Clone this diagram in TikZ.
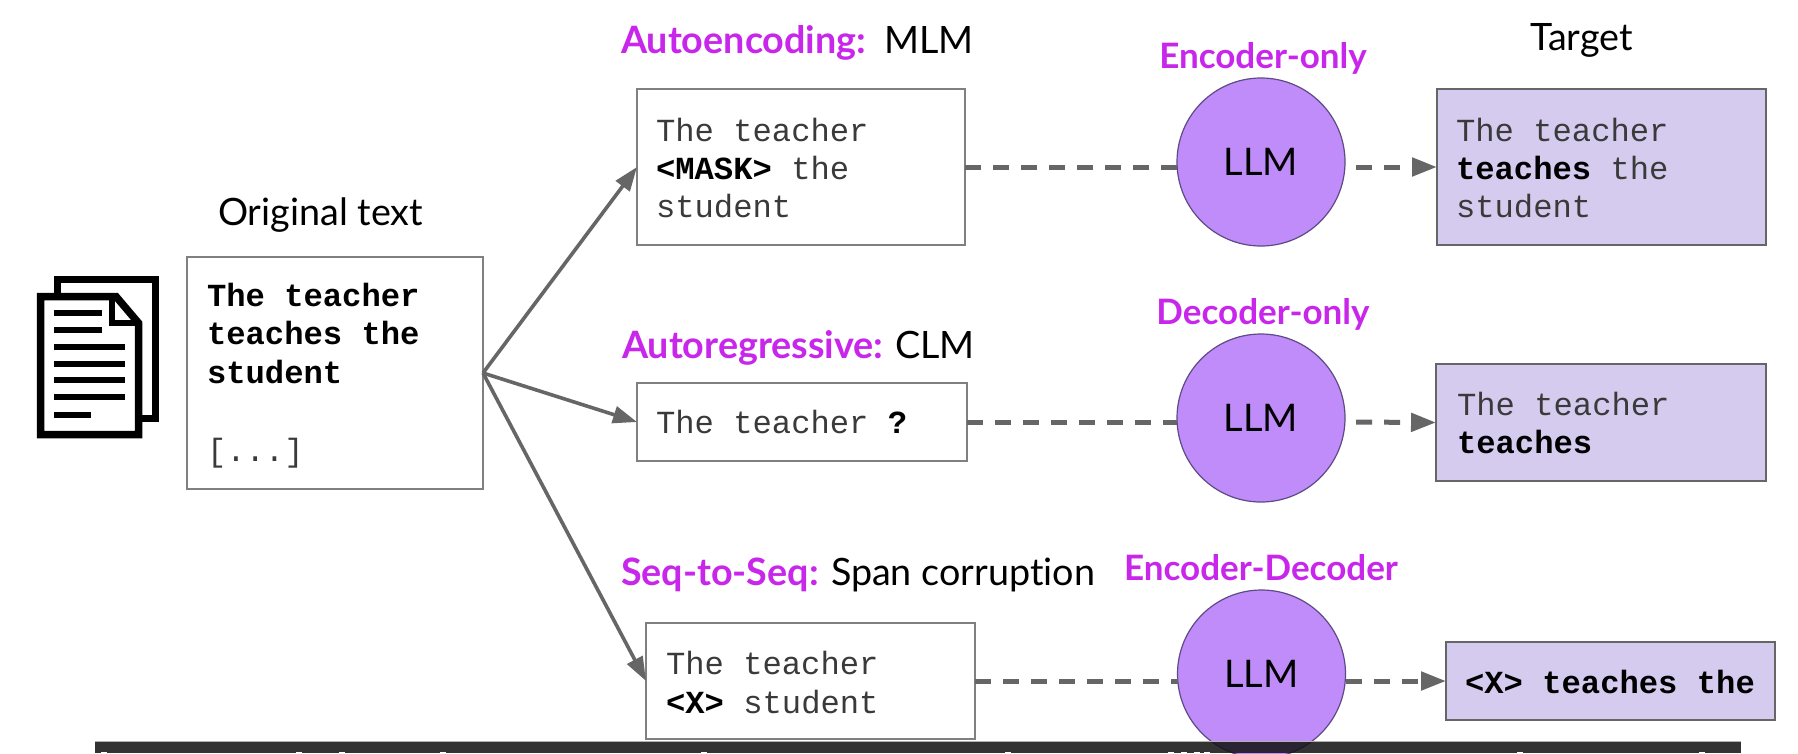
\documentclass[tikz,border=0pt]{standalone}
\usepackage{fontspec}
\setmainfont[Ligatures=CommonOff]{Lato}
\setmonofont{Liberation Mono}
\usetikzlibrary{arrows.meta}
\definecolor{magentalabel}{HTML}{C926EC}
\definecolor{llmfill}{HTML}{C08CFA}
\definecolor{llmedge}{HTML}{5E4A86}
\definecolor{targetfill}{HTML}{D5CBEE}
\definecolor{linegray}{HTML}{666666}
\definecolor{boxedge}{HTML}{808080}
\definecolor{codegray}{HTML}{3A3A3A}
\tikzset{
  x=1pt,y=-1pt,
  inputbox/.style={draw=boxedge,line width=1.8pt,fill=white,rectangle,inner sep=0pt,outer sep=0pt},
  targetbox/.style={draw=linegray,line width=1.8pt,fill=targetfill,rectangle,inner sep=0pt,outer sep=0pt},
  llm/.style={circle,draw=llmedge,line width=1.2pt,fill=llmfill,minimum size=168pt,inner sep=0pt,outer sep=0pt,
    text=black,font=\fontsize{38}{38}\selectfont},
  code/.style={anchor=base west,inner sep=0pt,outer sep=0pt,text=codegray,font=\ttfamily\fontsize{32.2}{32.2}\selectfont},
  boldcode/.style={code,text=black,font=\ttfamily\bfseries\fontsize{32.2}{32.2}\selectfont},
  lab/.style={anchor=base west,inner sep=0pt,outer sep=0pt,text=black,font=\fontsize{37.7}{37.7}\selectfont},
  magbold/.style={anchor=base west,inner sep=0pt,outer sep=0pt,text=magentalabel,font=\bfseries\fontsize{37.7}{37.7}\selectfont},
  magcenter/.style={anchor=base,inner sep=0pt,outer sep=0pt,text=magentalabel,font=\bfseries\fontsize{35}{35}\selectfont},
  solidarrow/.style={draw=linegray,line width=3.6pt,-{Triangle[length=24pt,width=17pt]}},
  dashline/.style={draw=linegray,line width=5pt,dash pattern=on 16pt off 12pt},
  dasharrow/.style={draw=linegray,line width=5pt,dash pattern=on 16pt off 12pt,-{Triangle[length=25pt,width=18pt]}},
  iconline/.style={draw=black,line width=6.5pt},
}
\begin{document}
\begin{tikzpicture}
\useasboundingbox (0,0) rectangle (1798,753);
\clip (0,0) rectangle (1798,753);
\fill[white] (0,0) rectangle (1798,753);

% document icon
\draw[black,line width=7pt,fill=white] (57.5,293) -- (57.5,279.5) -- (155.5,279.5) -- (155.5,418) -- (139,418);
\draw[black,line width=7.5pt,fill=white,line join=miter] (40.5,296.5) -- (116,296.5) -- (138.5,323) -- (138.5,434.5) -- (40.5,434.5) -- cycle;
\draw[black,line width=6.5pt] (112,296) -- (112,323) -- (139,323);
\foreach \yy/\xx in {313/102,330/102,347/125,364/125,380/125,397/125,415/91}
  \draw[iconline] (54,\yy) -- (\xx,\yy);

% boxes
\node[inputbox,minimum width=296pt,minimum height=232pt] (orig) at (335,373) {};
\node[inputbox,minimum width=328pt,minimum height=156pt] (mlm) at (801,167) {};
\node[targetbox,minimum width=329pt,minimum height=156pt] (t1) at (1601.5,167) {};
\node[inputbox,minimum width=330pt,minimum height=78pt] (clm) at (802,422) {};
\node[targetbox,minimum width=330pt,minimum height=117pt] (t2) at (1601,422.5) {};
\node[inputbox,minimum width=329pt,minimum height=116pt] (seq) at (810.5,681) {};
\node[targetbox,minimum width=329pt,minimum height=78pt] (t3) at (1610.5,681) {};

% llm circles
\node[llm] (l1) at (1261,162) {LLM};
\node[llm] (l2) at (1261,418) {LLM};
\node[llm] (l3) at (1261.5,674) {LLM};

% connectors
\draw[solidarrow] (orig.east) -- (mlm.west);
\draw[solidarrow] (orig.east) -- (clm.west);
\draw[solidarrow] (orig.east) -- (seq.west);
\draw[dashline] (mlm.east) -- (l1.west |- mlm.east);
\draw[dashline] (clm.east) -- (l2.west |- clm.east);
\draw[dashline] (seq.east) -- (l3.west |- seq.east);
\draw[dasharrow,shorten <=11pt] (l1.east |- mlm.east) -- (t1.west);
\draw[dasharrow,shorten <=11pt] (l2.east |- clm.east) -- (t2.west);
\draw[dasharrow] (l3.east |- seq.east) -- (t3.west);

% code text
\node[boldcode] (o1) at (207,306) {The teacher};
\node[boldcode] (o2) at (207,344) {teaches the};
\node[boldcode] (o3) at (207,383) {student};
\node[code] (o4) at (207,461) {[...]};

\node[code] (m1) at (656,141) {The teacher};
\node[code] (m2) at (656,179) {\textbf{\textcolor{black}{<MASK>}} the};
\node[code] (m3) at (656,217) {student};

\node[code] (a1) at (1456,141) {The teacher};
\node[code] (a2) at (1456,179) {\textbf{\textcolor{black}{teaches}} the};
\node[code] (a3) at (1456,217) {student};

\node[code] (c1) at (656,433) {The teacher \textbf{\textcolor{black}{?}}};

\node[code] (b1) at (1457,415) {The teacher};
\node[boldcode] (b2) at (1457,453) {teaches};

\node[code] (s1) at (666,674) {The teacher};
\node[code] (s2) at (666,713) {\textbf{\textcolor{black}{<X>}} student};

\node[boldcode] (u1) at (1465,693) {<X> teaches the};

% labels
\node[lab] (origlab) at (218,225) {Original text};
\node[magbold] (ae) at (621,53) {Autoencoding:};
\node[lab] (mlmlab) at (884,53) {MLM};
\node[lab] (target) at (1530,50) {Target};
\node[magcenter] (enc) at (1263,68) {Encoder-only};
\node[magbold] (ar) at (622,358) {Autoregressive:};
\node[lab] (clmlab) at (895,358) {CLM};
\node[magcenter] (dec) at (1263,324) {Decoder-only};
\node[magbold] (ss) at (621,585) {Seq-to-Seq:};
\node[lab] (span) at (831,585) {Span corruption};
\node[magcenter] (ed) at (1261,580) {Encoder-Decoder};

% bottom band
\fill[gray!60] (95,740.5) rectangle (1741,742);
\fill[fill=black!93!white,fill opacity=0.857] (95,741.5) rectangle (1741,753);
\foreach \xx in {104,299,342,443,704,1008,1171,1184,1197,1207,1520,1702}
  \fill[white] (\xx-3,751.5) rectangle (\xx+3,753);
\end{tikzpicture}
\end{document}
